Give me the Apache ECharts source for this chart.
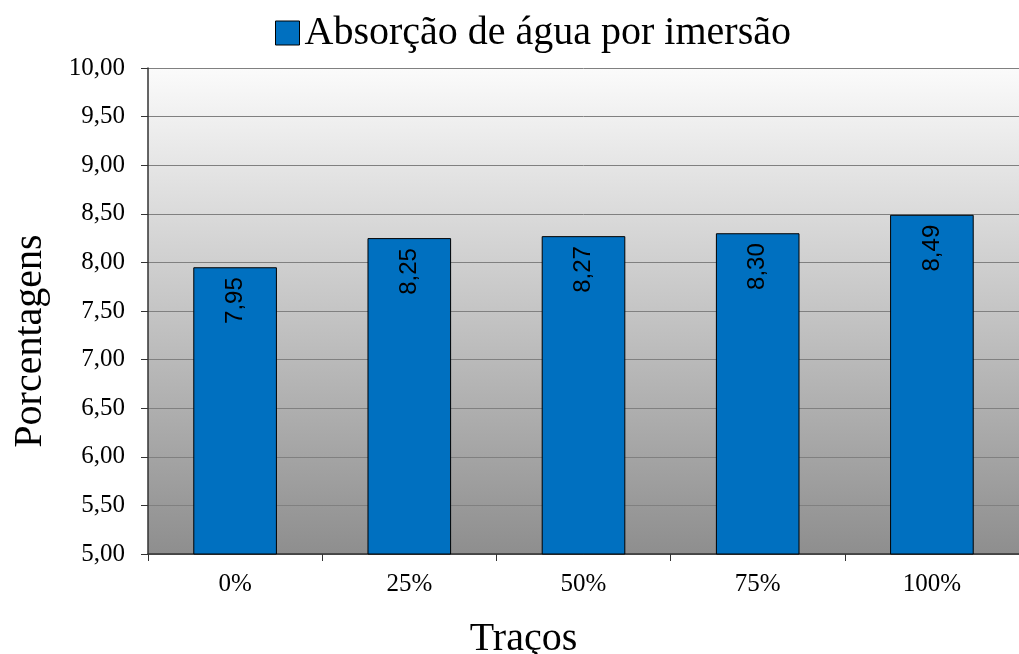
<!DOCTYPE html>
<html>
<head>
<meta charset="utf-8">
<script src="https://cdn.jsdelivr.net/npm/echarts@6/dist/echarts.min.js"></script>
<style>
  html, body { margin: 0; padding: 0; background: #fff; }
  #chart { width: 1019px; height: 654px; }
</style>
</head>
<body>
<div id="chart"></div>
<script>
var categories = ['0%', '25%', '50%', '75%', '100%'];
var absorcao = [7.95, 8.25, 8.27, 8.30, 8.49];
var seriesName = 'Absorção de água por imersão';

function virgula(v) {
    return Number(v).toFixed(2).replace('.', ',');
}

var myChart = echarts.init(document.getElementById('chart'));
var fonte = '"Liberation Serif", "Times New Roman", serif';

var option = {
    animation: false,
    textStyle: { fontFamily: fonte, color: '#000' },
    // legenda no topo
    legend: {
        data: [seriesName],
        top: 8,
        left: 270,
        icon: 'rect',
        itemWidth: 24,
        itemHeight: 24,
        itemGap: 10,
        itemStyle: { borderColor: '#000', borderWidth: 1 },
        textStyle: { fontFamily: fonte, fontSize: 40, color: '#000' }
    },
    grid: {
        left: 148,
        right: 0,
        top: 68,
        bottom: 100,
        outerBoundsMode: 'none',
        containLabel: false,
        show: true,
        borderWidth: 0,
        backgroundColor: new echarts.graphic.LinearGradient(0, 0, 0, 1, [
            { offset: 0, color: '#fbfbfb' },
            { offset: 1, color: '#8e8e8e' }
        ])
    },
    xAxis: {
        type: 'category',
        data: categories,
        name: 'Traços',
        nameLocation: 'middle',
        nameGap: 65,
        nameTextStyle: { fontFamily: fonte, fontSize: 40, color: '#000', padding: [0, 120, 0, 0] },
        axisLine: { lineStyle: { color: '#333', width: 1.5 } },
        axisTick: { show: true, length: 7, lineStyle: { color: '#333' } },
        axisLabel: { fontFamily: fonte, fontSize: 25, color: '#000', margin: 18 }
    },
    yAxis: {
        type: 'value',
        min: 5,
        max: 10,
        interval: 0.5,
        name: 'Porcentagens',
        nameLocation: 'middle',
        nameGap: 98,
        nameTextStyle: { fontFamily: fonte, fontSize: 40, color: '#000', padding: [0, 60, 0, 0] },
        axisLine: { show: true, lineStyle: { color: '#333', width: 1.5 } },
        axisTick: { show: true, length: 7, lineStyle: { color: '#333' } },
        axisLabel: {
            fontFamily: fonte, fontSize: 25, color: '#000', margin: 23,
            formatter: virgula
        },
        splitLine: { show: true, lineStyle: { color: '#808080', width: 1 } }
    },
    series: [{
        name: seriesName,
        type: 'bar',
        data: absorcao,
        barWidth: '48%',
        itemStyle: { color: '#0070C0', borderColor: '#000', borderWidth: 1 },
        label: {
            show: true,
            position: 'insideTop',
            distance: 10,
            rotate: 90,
            align: 'right',
            verticalAlign: 'middle',
            fontFamily: '"Liberation Sans", Arial, sans-serif',
            fontSize: 24,
            color: '#000',
            formatter: function (p) { return virgula(p.value); }
        }
    }]
};

window.addEventListener('resize', myChart.resize);
myChart.setOption(option);
</script>
</body>
</html>
